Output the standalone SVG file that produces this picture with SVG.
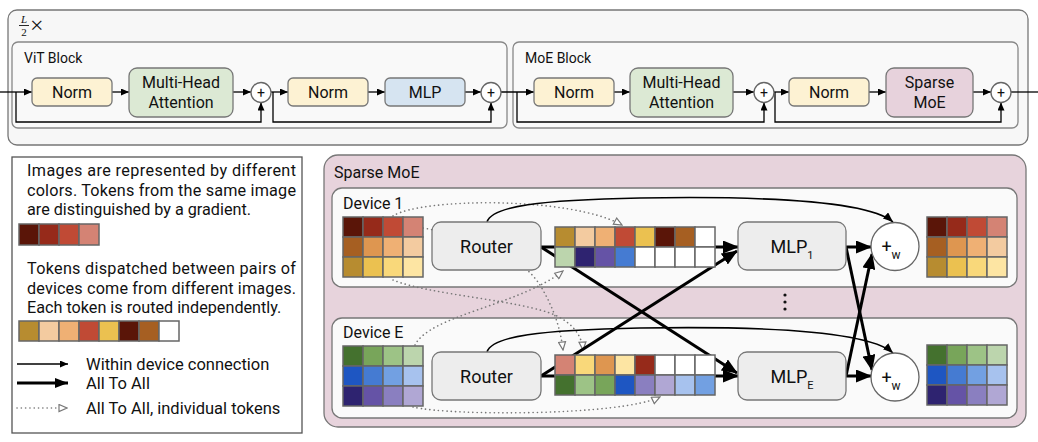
<svg xmlns="http://www.w3.org/2000/svg" width="1038" height="442" viewBox="0 0 1038 442">
<defs>
<style>
text{font-family:Roboto,"Liberation Sans",sans-serif;fill:#111}
.frame{fill:#f7f7f7;stroke:#777;stroke-width:1.3}
.blk{fill:#f9f9f9;stroke:#888;stroke-width:1.3}
.nd{stroke:#777;stroke-width:1.3}
.norm{fill:#fdf2d3}
.mha{fill:#dce9d4}
.mlp{fill:#d6e4f1}
.smoe{fill:#e7d2dc}
.gray{fill:#ededed}
.circ{fill:#fff;stroke:#666;stroke-width:1.3}
.t16{font-size:16px}
.t14{font-size:14px}
.lg{font-size:16.2px}
.li{font-size:16.5px}
.t18{font-size:18px}
.mid{text-anchor:middle}
.thin{fill:none;stroke:#000;stroke-width:1.3}
.med{fill:none;stroke:#000;stroke-width:1.6}
.thick{fill:none;stroke:#000;stroke-width:3}
.dot{fill:none;stroke:#777;stroke-width:1.6;stroke-dasharray:0.1 4.2;stroke-linecap:round}
.cell rect{stroke:#666;stroke-width:1.5}
</style>
<marker id="aS" markerUnits="userSpaceOnUse" markerWidth="8" markerHeight="7" refX="8" refY="3.5" orient="auto"><path d="M0,0 L8,3.5 L0,7 z" fill="#000"/></marker>
<marker id="aM" markerUnits="userSpaceOnUse" markerWidth="10" markerHeight="8" refX="10" refY="4" orient="auto"><path d="M0,0 L10,4 L0,8 z" fill="#000"/></marker>
<marker id="aL" markerUnits="userSpaceOnUse" markerWidth="13" markerHeight="10" refX="13" refY="5" orient="auto"><path d="M0,0 L13,5 L0,10 z" fill="#000"/></marker>
<marker id="aT" markerUnits="userSpaceOnUse" markerWidth="16" markerHeight="13" refX="15" refY="6.5" orient="auto"><path d="M0,0 L16,6.5 L0,13 z" fill="#000"/></marker>
<marker id="aH" markerUnits="userSpaceOnUse" markerWidth="10" markerHeight="9" refX="9" refY="4.5" orient="auto"><path d="M1,1 L9,4.5 L1,8 z" fill="#fff" stroke="#777" stroke-width="1.2"/></marker>
</defs>

<!-- top frame -->
<g id="frame-top">
<rect class="frame" x="8" y="10" width="1020" height="135" rx="9"/>
<text x="24" y="22.5" font-style="italic" font-size="11" text-anchor="middle" style="font-family:'Liberation Serif',serif">L</text>
<line x1="19" y1="25.5" x2="29" y2="25.5" stroke="#111" stroke-width="0.9"/>
<text x="24" y="35.5" font-size="11" text-anchor="middle" style="font-family:'Liberation Serif',serif">2</text>
<text x="30" y="33" font-size="24" style="font-family:'Liberation Serif',serif">×</text>
</g>
<g id="vit-block">
<rect class="blk" x="12" y="42" width="495" height="86" rx="6"/>
<text class="t14" x="24" y="63">ViT Block</text>
</g>
<g id="moe-block">
<rect class="blk" x="513" y="42" width="505" height="86" rx="6"/>
<text class="t14" x="525" y="63">MoE Block</text>
</g>

<!-- sparse moe frame -->
<g id="sparse-moe">
<rect x="324" y="155" width="702" height="272" rx="14" fill="#e7d3dc" stroke="#777" stroke-width="1.3"/>
<text class="t16" x="334" y="178">Sparse MoE</text>
</g>
<g id="device-1">
<rect x="332" y="188" width="685" height="99" rx="10" fill="#fafafa" stroke="#777" stroke-width="1.3"/>
<text class="t16" x="343" y="209">Device 1</text>
</g>
<g id="device-e">
<rect x="332" y="318" width="685" height="100" rx="10" fill="#fafafa" stroke="#777" stroke-width="1.3"/>
<text class="t16" x="343" y="338">Device E</text>
</g>

<!-- connectors -->
<g id="connectors">
<!-- ViT -->
<path class="thin" d="M0,92 L32,92" marker-end="url(#aS)"/>
<path class="thin" d="M112,92 L129,92" marker-end="url(#aS)"/>
<path class="thin" d="M233,92 L251,92" marker-end="url(#aS)"/>
<path class="thin" d="M16,92 L16,122 L261,122 L261,102.5" marker-end="url(#aS)"/>
<path class="thin" d="M271,92 L288,92" marker-end="url(#aS)"/>
<path class="thin" d="M273,92 L273,122 L491,122 L491,102.5" marker-end="url(#aS)"/>
<path class="thin" d="M368,92 L385,92" marker-end="url(#aS)"/>
<path class="thin" d="M465,92 L481,92" marker-end="url(#aS)"/>
<path class="thin" d="M501,92 L534,92" marker-end="url(#aS)"/>
<!-- MoE block -->
<path class="thin" d="M517,92 L517,122 L764,122 L764,102.5" marker-end="url(#aS)"/>
<path class="thin" d="M614,92 L630,92" marker-end="url(#aS)"/>
<path class="thin" d="M733,92 L754,92" marker-end="url(#aS)"/>
<path class="thin" d="M774,92 L789,92" marker-end="url(#aS)"/>
<path class="thin" d="M775,92 L775,122 L1001,122 L1001,102.5" marker-end="url(#aS)"/>
<path class="thin" d="M869,92 L886,92" marker-end="url(#aS)"/>
<path class="thin" d="M973,92 L991,92" marker-end="url(#aS)"/>
<path class="thin" d="M1011,92 L1038,92"/>
<!-- Sparse MoE: dotted individual tokens -->
<path class="dot" d="M393,216 C420,198 570,196 622,225" marker-end="url(#aH)"/>
<path class="dot" d="M423,228 C480,238 520,255 540,285 C552,305 560,325 563,350" marker-end="url(#aH)"/>
<path class="dot" d="M393,280 C430,295 520,300 555,315 C572,323 582,335 583,350" marker-end="url(#aH)"/>
<path class="dot" d="M415,345 C430,315 520,305 563,271" marker-end="url(#aH)"/>
<path class="dot" d="M413,407 C450,416 620,416 660,397" marker-end="url(#aH)"/>
<!-- within device -->
<path class="med" d="M487,222 C492,206 540,200 640,198 C760,196 868,200 893,222" marker-end="url(#aM)"/>
<path class="med" d="M487,352 C492,336 540,330 640,328 C760,326 868,330 893,353" marker-end="url(#aM)"/>
<!-- all to all -->
<path class="thick" d="M541,247 L738,247" marker-end="url(#aT)"/>
<path class="thick" d="M541,247 L737,373" marker-end="url(#aT)"/>
<path class="thick" d="M541,376 L738,376" marker-end="url(#aT)"/>
<path class="thick" d="M541,376 L737,251" marker-end="url(#aT)"/>
<path class="thick" d="M846,247 L871,247" marker-end="url(#aT)"/>
<path class="thick" d="M846,247 L872,370" marker-end="url(#aT)"/>
<path class="thick" d="M846,376 L871,376" marker-end="url(#aT)"/>
<path class="thick" d="M846,376 L872,254" marker-end="url(#aT)"/>
</g>

<!-- top nodes -->
<g id="vit-norm1"><rect class="nd norm" x="32" y="78" width="80" height="28" rx="5"/><text class="t16 mid" x="72" y="98">Norm</text></g>
<g id="vit-mha"><rect class="nd mha" x="129" y="68" width="104" height="49" rx="8"/><text class="t16 mid" x="181" y="88">Multi-Head</text><text class="t16 mid" x="181" y="107.5">Attention</text></g>
<g id="vit-add1"><circle class="circ" cx="261" cy="92.5" r="10"/><text class="t14 mid" x="261" y="97.5">+</text></g>
<g id="vit-norm2"><rect class="nd norm" x="288" y="78" width="80" height="28" rx="5"/><text class="t16 mid" x="328" y="98">Norm</text></g>
<g id="vit-mlp"><rect class="nd mlp" x="385" y="78" width="80" height="28" rx="5"/><text class="t16 mid" x="425" y="98">MLP</text></g>
<g id="vit-add2"><circle class="circ" cx="491" cy="92.5" r="10"/><text class="t14 mid" x="491" y="97.5">+</text></g>

<g id="moe-norm1"><rect class="nd norm" x="534" y="78" width="80" height="28" rx="5"/><text class="t16 mid" x="574" y="98">Norm</text></g>
<g id="moe-mha"><rect class="nd mha" x="630" y="68" width="103" height="49" rx="8"/><text class="t16 mid" x="681.5" y="88">Multi-Head</text><text class="t16 mid" x="681.5" y="107.5">Attention</text></g>
<g id="moe-add1"><circle class="circ" cx="764" cy="92.5" r="10"/><text class="t14 mid" x="764" y="97.5">+</text></g>
<g id="moe-norm2"><rect class="nd norm" x="789" y="78" width="80" height="28" rx="5"/><text class="t16 mid" x="829" y="98">Norm</text></g>
<g id="moe-sparse"><rect class="nd smoe" x="886" y="68" width="87" height="49" rx="8"/><text class="t16 mid" x="929.5" y="88">Sparse</text><text class="t16 mid" x="929.5" y="107.5">MoE</text></g>
<g id="moe-add2"><circle class="circ" cx="1001" cy="92.5" r="10"/><text class="t14 mid" x="1001" y="97.5">+</text></g>

<!-- legend -->
<g id="legend">
<rect x="12" y="157" width="290" height="276" fill="#fff" stroke="#555" stroke-width="1.3"/>
<text class="lg" x="27" y="176" textLength="269" lengthAdjust="spacing">Images are represented by different</text>
<text class="lg" x="27" y="195.5" textLength="269" lengthAdjust="spacing">colors. Tokens from the same image</text>
<text class="lg" x="27" y="215">are distinguished by a gradient.</text>
<g class="cell">
<rect x="19" y="224" width="20" height="21" fill="#5a1508"/><rect x="39" y="224" width="20" height="21" fill="#962a1a"/><rect x="59" y="224" width="20" height="21" fill="#c04a35"/><rect x="79" y="224" width="20" height="21" fill="#d48374"/>
</g>
<text class="lg" x="27" y="274" textLength="269" lengthAdjust="spacing">Tokens dispatched between pairs of</text>
<text class="lg" x="27" y="293.5" textLength="269" lengthAdjust="spacing">devices come from different images.</text>
<text class="lg" x="27" y="313">Each token is routed independently.</text>
<g class="cell">
<rect x="19" y="321" width="20" height="20" fill="#b78c30"/><rect x="39" y="321" width="20" height="20" fill="#f3cba0"/><rect x="59" y="321" width="20" height="20" fill="#efb074"/><rect x="79" y="321" width="20" height="20" fill="#c04a35"/><rect x="99" y="321" width="20" height="20" fill="#ebc150"/><rect x="119" y="321" width="20" height="20" fill="#5a1508"/><rect x="139" y="321" width="20" height="20" fill="#a65f22"/><rect x="159" y="321" width="20" height="20" fill="#fff"/>
</g>
<path class="thin" d="M17,364 L68,364" marker-end="url(#aS)"/>
<text class="li" x="86" y="370">Within device connection</text>
<path class="thick" d="M17,383 L68,383" marker-end="url(#aL)"/>
<text class="li" x="86" y="389">All To All</text>
<path class="dot" d="M17,408 L67,408" marker-end="url(#aH)"/>
<text class="li" x="86" y="414">All To All, individual tokens</text>
</g>

<!-- device 1 nodes -->
<g id="d1-input" class="cell">
<rect x="343" y="217" width="20" height="20" fill="#5a1508"/><rect x="363" y="217" width="20" height="20" fill="#962a1a"/><rect x="383" y="217" width="20" height="20" fill="#c04a35"/><rect x="403" y="217" width="20" height="20" fill="#d48374"/>
<rect x="343" y="237" width="20" height="20" fill="#a65f22"/><rect x="363" y="237" width="20" height="20" fill="#de9650"/><rect x="383" y="237" width="20" height="20" fill="#efb074"/><rect x="403" y="237" width="20" height="20" fill="#f3cba0"/>
<rect x="343" y="257" width="20" height="20" fill="#b78c30"/><rect x="363" y="257" width="20" height="20" fill="#ebc150"/><rect x="383" y="257" width="20" height="20" fill="#f9d87a"/><rect x="403" y="257" width="20" height="20" fill="#fde5a3"/>
</g>
<g id="d1-router"><rect class="nd gray" x="432" y="222" width="109" height="48" rx="9"/><text class="t18 mid" x="486.5" y="252.5">Router</text></g>
<g id="d1-tokens" class="cell">
<rect x="555" y="227" width="20" height="20" fill="#b78c30"/><rect x="575" y="227" width="20" height="20" fill="#f3cba0"/><rect x="595" y="227" width="20" height="20" fill="#efb074"/><rect x="615" y="227" width="20" height="20" fill="#c04a35"/><rect x="635" y="227" width="20" height="20" fill="#ebc150"/><rect x="655" y="227" width="20" height="20" fill="#5a1508"/><rect x="675" y="227" width="20" height="20" fill="#a65f22"/><rect x="695" y="227" width="20" height="20" fill="#fff"/>
<rect x="555" y="247" width="20" height="20" fill="#bcd5ad"/><rect x="575" y="247" width="20" height="20" fill="#2e2370"/><rect x="595" y="247" width="20" height="20" fill="#6553a6"/><rect x="615" y="247" width="20" height="20" fill="#457bd2"/><rect x="635" y="247" width="20" height="20" fill="#fff"/><rect x="655" y="247" width="20" height="20" fill="#fff"/><rect x="675" y="247" width="20" height="20" fill="#fff"/><rect x="695" y="247" width="20" height="20" fill="#fff"/>
</g>
<g id="d1-mlp"><rect class="nd gray" x="738" y="222" width="108" height="48" rx="9"/><text class="t18 mid" x="792" y="253">MLP<tspan font-size="11" dy="6">1</tspan></text></g>
<g id="d1-combine"><circle class="circ" cx="895" cy="246.5" r="24"/><text class="t18 mid" x="891" y="253">+<tspan font-size="12" dy="6">w</tspan></text></g>
<g id="d1-output" class="cell">
<rect x="927" y="217" width="20" height="20" fill="#5a1508"/><rect x="947" y="217" width="20" height="20" fill="#962a1a"/><rect x="967" y="217" width="20" height="20" fill="#c04a35"/><rect x="987" y="217" width="20" height="20" fill="#d48374"/>
<rect x="927" y="237" width="20" height="20" fill="#a65f22"/><rect x="947" y="237" width="20" height="20" fill="#de9650"/><rect x="967" y="237" width="20" height="20" fill="#efb074"/><rect x="987" y="237" width="20" height="20" fill="#f3cba0"/>
<rect x="927" y="257" width="20" height="20" fill="#b78c30"/><rect x="947" y="257" width="20" height="20" fill="#ebc150"/><rect x="967" y="257" width="20" height="20" fill="#f9d87a"/><rect x="987" y="257" width="20" height="20" fill="#fde5a3"/>
</g>

<g id="ellipsis" fill="#111"><circle cx="785" cy="295" r="1.6"/><circle cx="785" cy="302" r="1.6"/><circle cx="785" cy="309" r="1.6"/></g>

<!-- device E nodes -->
<g id="de-input" class="cell">
<rect x="343" y="346" width="20" height="20" fill="#44712e"/><rect x="363" y="346" width="20" height="20" fill="#78a55a"/><rect x="383" y="346" width="20" height="20" fill="#9dc386"/><rect x="403" y="346" width="20" height="20" fill="#bcd5ad"/>
<rect x="343" y="366" width="20" height="20" fill="#1e56c2"/><rect x="363" y="366" width="20" height="20" fill="#457bd2"/><rect x="383" y="366" width="20" height="20" fill="#72a0e2"/><rect x="403" y="366" width="20" height="20" fill="#a7c2ee"/>
<rect x="343" y="386" width="20" height="20" fill="#2e2370"/><rect x="363" y="386" width="20" height="20" fill="#6553a6"/><rect x="383" y="386" width="20" height="20" fill="#8a7fc0"/><rect x="403" y="386" width="20" height="20" fill="#b0a7d4"/>
</g>
<g id="de-router"><rect class="nd gray" x="432" y="352" width="109" height="48" rx="9"/><text class="t18 mid" x="486.5" y="382.5">Router</text></g>
<g id="de-tokens" class="cell">
<rect x="555" y="355" width="20" height="20" fill="#d48374"/><rect x="575" y="355" width="20" height="20" fill="#f9d87a"/><rect x="595" y="355" width="20" height="20" fill="#de9650"/><rect x="615" y="355" width="20" height="20" fill="#fde5a3"/><rect x="635" y="355" width="20" height="20" fill="#962a1a"/><rect x="655" y="355" width="20" height="20" fill="#fff"/><rect x="675" y="355" width="20" height="20" fill="#fff"/><rect x="695" y="355" width="20" height="20" fill="#fff"/>
<rect x="555" y="375" width="20" height="20" fill="#44712e"/><rect x="575" y="375" width="20" height="20" fill="#9dc386"/><rect x="595" y="375" width="20" height="20" fill="#78a55a"/><rect x="615" y="375" width="20" height="20" fill="#1e56c2"/><rect x="635" y="375" width="20" height="20" fill="#8a7fc0"/><rect x="655" y="375" width="20" height="20" fill="#b0a7d4"/><rect x="675" y="375" width="20" height="20" fill="#a7c2ee"/><rect x="695" y="375" width="20" height="20" fill="#72a0e2"/>
</g>
<g id="de-mlp"><rect class="nd gray" x="738" y="352" width="108" height="48" rx="9"/><text class="t18 mid" x="792" y="383">MLP<tspan font-size="11" dy="6">E</tspan></text></g>
<g id="de-combine"><circle class="circ" cx="895" cy="377" r="24"/><text class="t18 mid" x="891" y="383.5">+<tspan font-size="12" dy="6">w</tspan></text></g>
<g id="de-output" class="cell">
<rect x="927" y="345" width="20" height="20" fill="#44712e"/><rect x="947" y="345" width="20" height="20" fill="#78a55a"/><rect x="967" y="345" width="20" height="20" fill="#9dc386"/><rect x="987" y="345" width="20" height="20" fill="#bcd5ad"/>
<rect x="927" y="365" width="20" height="20" fill="#1e56c2"/><rect x="947" y="365" width="20" height="20" fill="#457bd2"/><rect x="967" y="365" width="20" height="20" fill="#72a0e2"/><rect x="987" y="365" width="20" height="20" fill="#a7c2ee"/>
<rect x="927" y="385" width="20" height="20" fill="#2e2370"/><rect x="947" y="385" width="20" height="20" fill="#6553a6"/><rect x="967" y="385" width="20" height="20" fill="#8a7fc0"/><rect x="987" y="385" width="20" height="20" fill="#b0a7d4"/>
</g>
</svg>
